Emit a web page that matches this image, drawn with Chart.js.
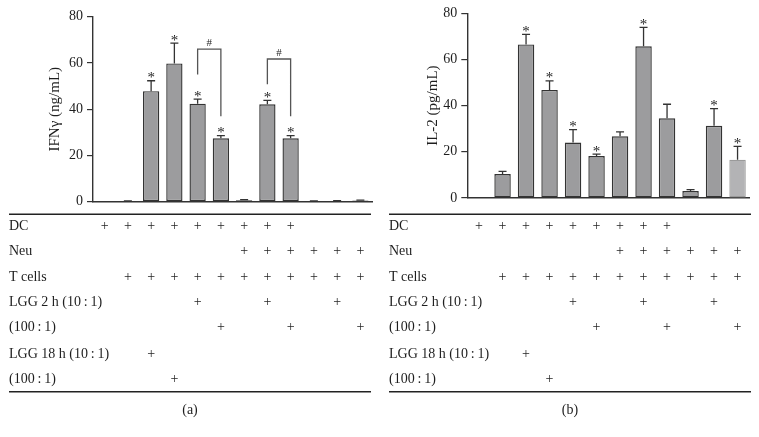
<!DOCTYPE html>
<html>
<head>
<meta charset="utf-8">
<script src="https://cdn.jsdelivr.net/npm/chart.js@4.4.1/dist/chart.umd.min.js"></script>
<style>
  html, body { margin: 0; padding: 0; background: #fff; }
  #wrap { position: relative; width: 759px; height: 437px; }
  canvas { position: absolute; top: 0; }
</style>
</head>
<body>
<div id="wrap">
  <canvas id="panelA" width="380" height="437" style="left:0px"></canvas>
  <canvas id="panelB" width="379" height="437" style="left:380px"></canvas>
</div>
<script>
// 12 culture conditions, left to right (described by the table under each chart)
const groups = ['1', '2', '3', '4', '5', '6', '7', '8', '9', '10', '11', '12'];
const yTicks = [0, 20, 40, 60, 80];

// (a) IFN-gamma, ng/mL
const ifngMeans = [0, 0.2, 47.8, 59.8, 42.4, 27.4, 0.6, 42.1, 27.4, 0.2, 0.3, 0.5];
const ifngErrors = [0, 0.2, 4.5, 8.8, 2.0, 1.2, 0.3, 1.7, 1.2, 0.2, 0.2, 0.2];
const ifngStars = [2, 3, 4, 5, 7, 8];
// "#" comparisons: bracket top value, and where each leg stops
const ifngBrackets = [
  { from: 4, to: 5, top: 66, leftEnd: 55, rightEnd: 37 },
  { from: 7, to: 8, top: 61.7, leftEnd: 50.8, rightEnd: 37 }
];

// (b) IL-2, pg/mL
const il2Means = [0, 10.4, 66.5, 46.8, 24.0, 18.2, 26.7, 65.7, 34.5, 3.0, 31.3, 16.6];
const il2Errors = [0, 1.1, 4.4, 3.9, 5.6, 0.8, 1.9, 8.2, 6.1, 0.6, 7.4, 5.8];
const il2Stars = [2, 3, 4, 5, 7, 10, 11];

// condition table
const rowLabels = ['DC', 'Neu', 'T cells', 'LGG 2 h (10\u2009:\u20091)', '(100\u2009:\u20091)', 'LGG 18 h (10\u2009:\u20091)', '(100\u2009:\u20091)'];
const rowMarks = [
  [1, 1, 1, 1, 1, 1, 1, 1, 1, 0, 0, 0],
  [0, 0, 0, 0, 0, 0, 1, 1, 1, 1, 1, 1],
  [0, 1, 1, 1, 1, 1, 1, 1, 1, 1, 1, 1],
  [0, 0, 0, 0, 1, 0, 0, 1, 0, 0, 1, 0],
  [0, 0, 0, 0, 0, 1, 0, 0, 1, 0, 0, 1],
  [0, 0, 1, 0, 0, 0, 0, 0, 0, 0, 0, 0],
  [0, 0, 0, 1, 0, 0, 0, 0, 0, 0, 0, 0]
];

const SERIF = '"Liberation Serif", "DejaVu Serif", serif';
const INK = '#1e1e1e';
const rowY = [226.5, 251.5, 277, 302, 327.5, 354, 379.5];

function drawPanel(canvasId, p) {
  const extras = {
    id: 'extras',
    afterDatasetsDraw(chart) {
      const { ctx, scales: { x, y } } = chart;
      ctx.save();

      // upper error bars
      ctx.strokeStyle = '#333';
      ctx.lineWidth = 1.3;
      p.means.forEach((m, i) => {
        if (!p.errors[i]) return;
        const cx = x.getPixelForValue(i);
        const y0 = y.getPixelForValue(m);
        const y1 = y.getPixelForValue(m + p.errors[i]);
        ctx.beginPath();
        ctx.moveTo(cx, y0);
        ctx.lineTo(cx, y1);
        ctx.moveTo(cx - 4, y1);
        ctx.lineTo(cx + 4, y1);
        ctx.stroke();
      });

      // significance stars
      ctx.fillStyle = INK;
      ctx.font = '15px ' + SERIF;
      ctx.textAlign = 'center';
      ctx.textBaseline = 'alphabetic';
      p.stars.forEach(i => {
        const top = y.getPixelForValue(p.means[i] + p.errors[i]);
        ctx.fillText('*', x.getPixelForValue(i), top + 1.5);
      });

      // brackets with "#"
      ctx.strokeStyle = '#555';
      ctx.lineWidth = 1.3;
      ctx.font = '11px ' + SERIF;
      p.brackets.forEach(b => {
        const xl = x.getPixelForValue(b.from);
        const xr = x.getPixelForValue(b.to);
        const yt = y.getPixelForValue(b.top);
        ctx.beginPath();
        ctx.moveTo(xl, y.getPixelForValue(b.leftEnd));
        ctx.lineTo(xl, yt);
        ctx.lineTo(xr, yt);
        ctx.lineTo(xr, y.getPixelForValue(b.rightEnd));
        ctx.stroke();
        ctx.fillText('#', (xl + xr) / 2, yt - 3);
      });

      // condition table
      ctx.strokeStyle = '#222';
      ctx.lineWidth = 1.4;
      ctx.beginPath();
      ctx.moveTo(9, 214.3);
      ctx.lineTo(371, 214.3);
      ctx.moveTo(9, 391.7);
      ctx.lineTo(371, 391.7);
      ctx.stroke();

      ctx.fillStyle = INK;
      ctx.textBaseline = 'middle';
      ctx.font = '14px ' + SERIF;
      rowLabels.forEach((label, r) => {
        ctx.textAlign = 'left';
        ctx.fillText(label, 9, rowY[r]);
        ctx.textAlign = 'center';
        rowMarks[r].forEach((on, i) => {
          if (on) ctx.fillText('+', x.getPixelForValue(i), rowY[r]);
        });
      });

      ctx.textAlign = 'center';
      ctx.fillText(p.letter, 190, 410);
      ctx.restore();
    }
  };

  new Chart(document.getElementById(canvasId), {
    type: 'bar',
    data: {
      labels: groups,
      datasets: [{
        data: p.means,
        backgroundColor: p.means.map((v, i) => p.light === i ? '#b3b3b5' : '#9c9c9e'),
        borderColor: p.means.map((v, i) => p.light === i ? '#9a9a9a' : '#333'),
        borderWidth: 1.4,
        borderSkipped: false,
        barPercentage: 0.7,
        categoryPercentage: 1
      }]
    },
    options: {
      responsive: false,
      animation: false,
      events: [],
      layout: { padding: { top: p.padTop, right: p.padRight, bottom: p.padBottom, left: 0 } },
      plugins: { legend: { display: false }, tooltip: { enabled: false } },
      scales: {
        x: {
          ticks: { display: false },
          grid: { display: false, drawTicks: false },
          border: { display: true, color: '#333', width: 1.4 },
          afterFit(scale) {
            scale.height = 0;
            scale.paddingLeft = 0;
            scale.paddingRight = 0;
          }
        },
        y: {
          min: 0,
          max: 80,
          afterBuildTicks(scale) {
            scale.ticks = yTicks.map(v => ({ value: v }));
          },
          ticks: { color: INK, padding: 4, font: { family: SERIF, size: 14 } },
          grid: { drawOnChartArea: false, drawTicks: true, tickLength: 6, color: '#333', lineWidth: 1.2 },
          border: { display: true, color: '#333', width: 1.4 },
          title: {
            display: true,
            text: p.title,
            color: INK,
            padding: { top: p.titlePad, bottom: 0 },
            font: { family: SERIF, size: 15 }
          },
          afterFit(scale) {
            scale.width = p.axisWidth;
            scale.paddingTop = 0;
            scale.paddingBottom = 0;
          }
        }
      }
    },
    plugins: [extras]
  });
}

drawPanel('panelA', {
  means: ifngMeans, errors: ifngErrors, stars: ifngStars, brackets: ifngBrackets,
  title: 'IFN\u03B3 (ng/mL)', letter: '(a)', light: -1,
  padTop: 16.7, padRight: 8, padBottom: 235.3, axisWidth: 93, titlePad: 46
});

drawPanel('panelB', {
  means: il2Means, errors: il2Errors, stars: il2Stars, brackets: [],
  title: 'IL-2 (pg/mL)', letter: '(b)', light: 11,
  padTop: 13.3, padRight: 9.7, padBottom: 239, axisWidth: 87.3, titlePad: 44.5
});
</script>
</body>
</html>
